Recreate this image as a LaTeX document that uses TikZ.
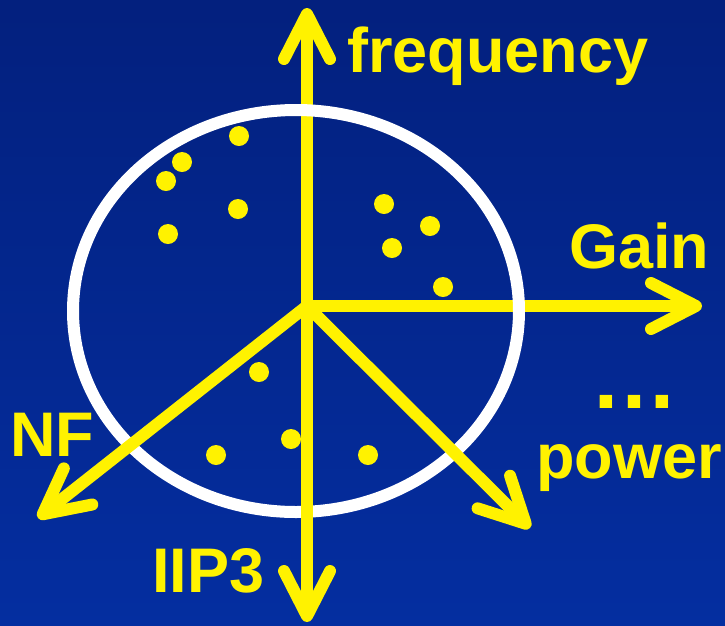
\documentclass[tikz,border=0pt]{standalone}
\usepackage{fontspec}
\setmainfont{Liberation Sans}
\usetikzlibrary{arrows.meta}
\definecolor{bgtop}{RGB}{3,32,126}
\definecolor{bgbot}{RGB}{4,46,160}
\tikzset{
  axis/.style={draw=yellow, line width=12pt, -{Straight Barb[length=45pt, width=46pt, round]}},
  ring/.style={draw=white, line width=12pt},
  dot/.style={circle, fill=yellow, inner sep=0pt, minimum size=20pt},
  lbl/.style={text=yellow, inner sep=0pt, anchor=base west, font=\fontsize{63}{63}\selectfont\bfseries},
}

\begin{document}
\begin{tikzpicture}[x=1pt, y=-1pt]
    \useasboundingbox (0,0) rectangle (725,625);
    \shade[top color=bgtop, bottom color=bgbot] (0,0) rectangle (725,625);
    \coordinate (o) at (307,306);
    \coordinate (up) at (307,8);
    \coordinate (right) at (702,306);
    \coordinate (down) at (307,622);
    \coordinate (nfend) at (38,518);
    \coordinate (powend) at (530,528);
    \draw[axis] (o) -- (up);
    \draw[axis] (o) -- (right);
    \draw[ring] (296,311) ellipse [x radius=223, y radius=201];
    \draw[axis] (o) -- (down);
    \draw[axis] (o) -- (nfend);
    \draw[axis] (o) -- (powend);
    \foreach \x/\y [count=\k] in {239/136, 182/162, 166/181, 238/209, 168/234,
        384/204, 430/226, 392/248, 443/287,
        259/372, 291/439, 216/455, 368/455}
      \node[dot] (d\k) at (\x,\y) {};
    \node[lbl] (freq) at (347,72) {frequency};
    \node[lbl] (gain) at (569,268) {Gain};
    \node[lbl, font=\fontsize{88}{88}\selectfont\bfseries] (more) at (590,408) {…};
    \node[lbl] (power) at (536,478) {power};
    \node[lbl] (nf) at (10,456) {NF};
    \node[lbl] (iip) at (152,592) {IIP3};
\end{tikzpicture}
\end{document}
